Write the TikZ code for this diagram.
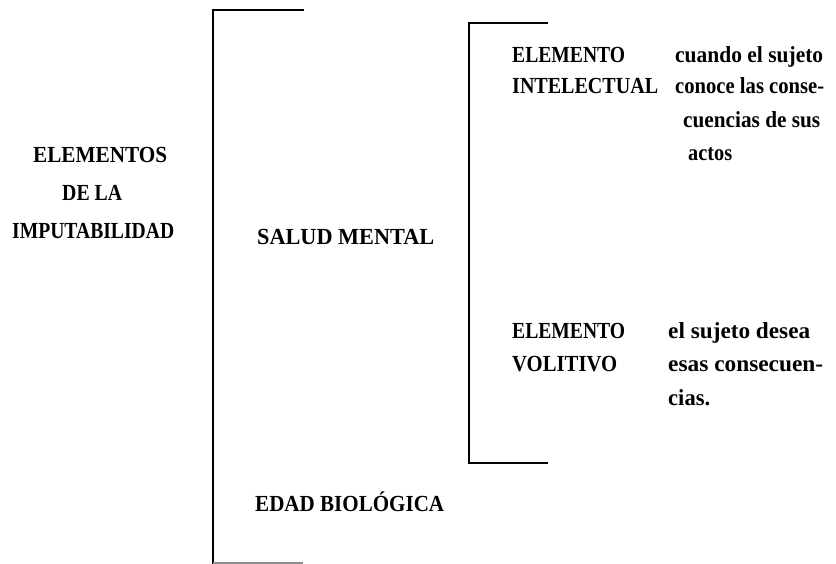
\documentclass[tikz,border=0pt]{standalone}
\usepackage{graphicx}
\usepackage{fontspec}
\setmainfont{Liberation Serif}
% set a label at a fixed width, keeping its natural height
\newcommand\fitto[2]{\resizebox{#1pt}{\height}{#2}}
\begin{document}
\begin{tikzpicture}[x=1pt,y=-1pt,
  lbl/.style={anchor=base west,inner sep=0pt,font=\fontsize{23}{26}\selectfont\bfseries},
  brace/.style={line width=2.2pt,line cap=rect}]
\useasboundingbox (0,0) rectangle (836,564);
% left title
\node[lbl] (t1) at (33,163) {\fitto{134}{ELEMENTOS}};
\node[lbl] (t2) at (62,201) {\fitto{60}{DE LA}};
\node[lbl] (t3) at (12,239) {\fitto{162}{IMPUTABILIDAD}};
% main bracket
\coordinate (ba) at (303,10);
\coordinate (bb) at (213,10);
\coordinate (bc) at (213,564);
\coordinate (bd) at (213,563);
\coordinate (be) at (303,563);
\draw[brace] (ba) -- (bb) -- (bc);
\draw[line width=1.5pt,black!45] (bd) -- (be);
% second level
\node[lbl] (sm) at (257,245) {\fitto{177}{SALUD MENTAL}};
\node[lbl] (eb) at (255,511) {\fitto{189}{EDAD BIOLÓGICA}};
% inner bracket
\coordinate (ia) at (547,23);
\coordinate (ib) at (469,23);
\coordinate (ic) at (469,463);
\coordinate (id) at (547,463);
\draw[brace] (ia) -- (ib) -- (ic) -- (id);
% intellectual element
\node[lbl] (e1) at (512,63) {\fitto{113}{ELEMENTO}};
\node[lbl] (e2) at (512,94) {\fitto{146}{INTELECTUAL}};
\node[lbl] (d1) at (675,63) {\fitto{148}{cuando el sujeto}};
\node[lbl] (d2) at (675,94) {\fitto{149}{conoce las conse-}};
\node[lbl] (d3) at (683,128) {\fitto{137}{cuencias de sus}};
\node[lbl] (d4) at (688,161) {\fitto{44}{actos}};
% volitional element
\node[lbl] (v1) at (512,338) {\fitto{113}{ELEMENTO}};
\node[lbl] (v2) at (512,371) {\fitto{105}{VOLITIVO}};
\node[lbl] (w1) at (668,338) {\fitto{142}{el sujeto desea}};
\node[lbl] (w2) at (668,371) {\fitto{155}{esas consecuen-}};
\node[lbl] (w3) at (668,405) {\fitto{42}{cias.}};
\end{tikzpicture}
\end{document}
